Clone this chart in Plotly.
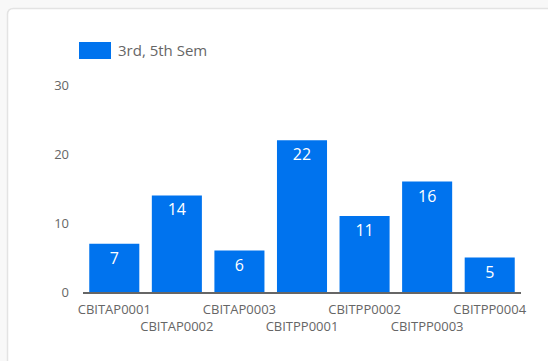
import plotly.graph_objects as go

# Course codes and counts for the 3rd / 5th semester
categories = ["CBITAP0001", "CBITAP0002", "CBITAP0003", "CBITPP0001",
              "CBITPP0002", "CBITPP0003", "CBITPP0004"]
counts = [7, 14, 6, 22, 11, 16, 5]
series_name = "3rd, 5th Sem"
y_ticks = [0, 10, 20, 30]

W, H = 548, 361
L, R, T, B = 83, 27, 85, 69
pw, ph = W - L - R, H - T - B

BAR = "#0073ee"
GREY = "#666666"
FONT = "Open Sans, Noto Sans, sans-serif"

# staggered tick labels: every second label drops to a second line
tick_text = [c if i % 2 == 0 else "<br>" + c for i, c in enumerate(categories)]


def px_x(p):
    return (p - L) / pw


def px_y(p):
    return (H - B - p) / ph


fig = go.Figure()
fig.add_trace(go.Bar(
    x=categories, y=counts, name=series_name,
    marker=dict(color=BAR, line=dict(width=0)),
    text=counts, textposition="inside", insidetextanchor="end",
    textfont=dict(color="white", size=16, family=FONT),
    showlegend=False,
))

# card background with rounded top-left corner
x0, x1 = px_x(7.5), px_x(560)
y0, y1 = px_y(380), px_y(8.5)
rx, ry = 6 / pw, 6 / ph
card = (f"M {x0},{y0} L {x0},{y1 - ry} Q {x0},{y1} {x0 + rx},{y1} "
        f"L {x1},{y1} L {x1},{y0} Z")

shapes = [
    dict(type="path", path=card, xref="paper", yref="paper",
         fillcolor="white", line=dict(color="#e3e3e3", width=1.5), layer="below"),
    # legend swatch
    dict(type="rect", xref="paper", yref="paper",
         x0=px_x(79), x1=px_x(111), y0=px_y(59), y1=px_y(42),
         fillcolor=BAR, line=dict(width=0)),
]
annotations = [
    dict(text=series_name, xref="paper", yref="paper",
         x=px_x(116), y=px_y(50.5), xanchor="left", yanchor="middle",
         showarrow=False, font=dict(size=15, color=GREY, family=FONT)),
]

fig.update_layout(
    width=W, height=H,
    margin=dict(l=L, r=R, t=T, b=B, pad=0),
    paper_bgcolor="#f8f8f8", plot_bgcolor="rgba(0,0,0,0)",
    bargap=0.2,
    font=dict(family=FONT, color=GREY, size=13),
    shapes=shapes, annotations=annotations,
    xaxis=dict(
        tickmode="array", tickvals=categories, ticktext=tick_text,
        showline=True, linecolor=GREY, linewidth=2,
        showgrid=False, ticks="", tickangle=0, ticklabelstandoff=4,
        tickfont=dict(size=13, color=GREY, family=FONT),
    ),
    yaxis=dict(
        range=[0, 30], tickvals=y_ticks, showgrid=False, zeroline=False,
        showline=False, ticks="", ticklen=0, ticklabelstandoff=13,
        tickfont=dict(size=13, color=GREY, family=FONT),
    ),
)

fig.write_html("out.html")
